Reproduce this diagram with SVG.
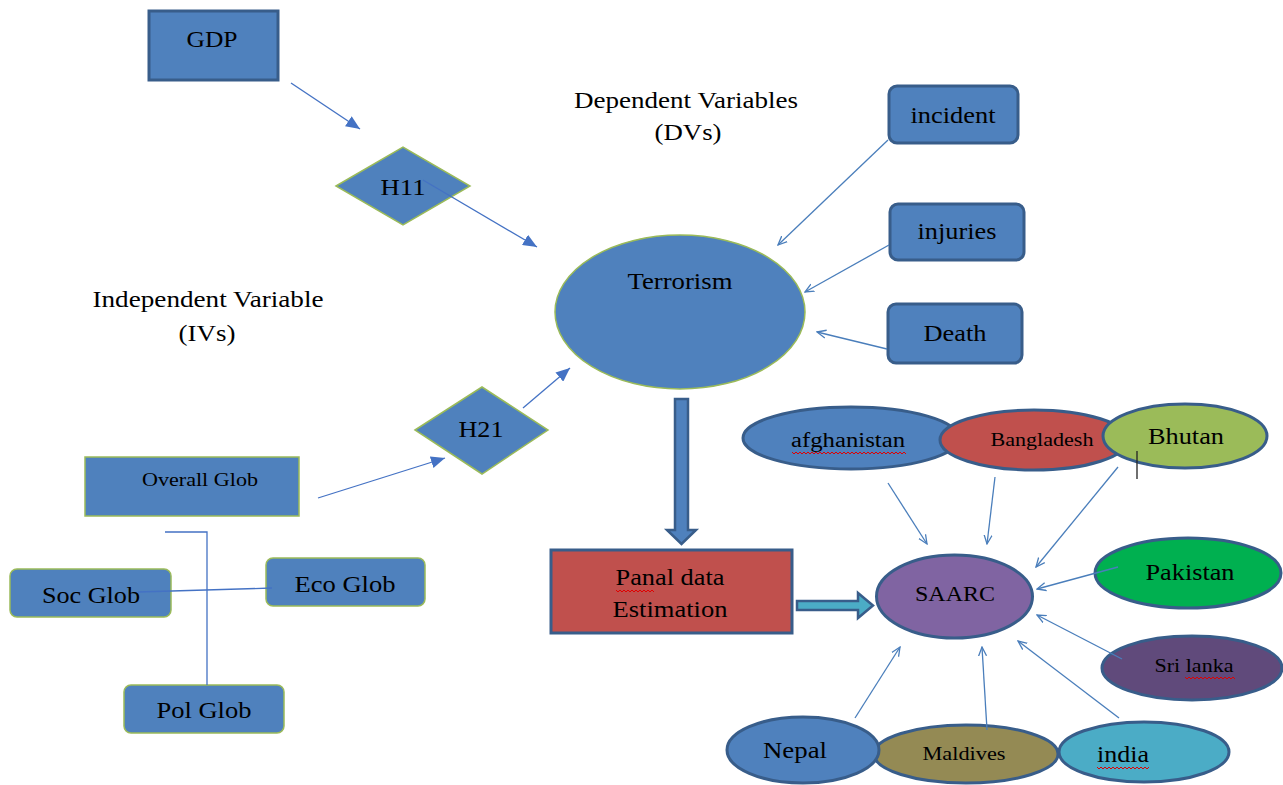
<svg xmlns="http://www.w3.org/2000/svg" width="1283" height="785" viewBox="0 0 1283 785">
<style>
text{font-family:"Liberation Serif","Times New Roman",serif;fill:#000;text-anchor:middle}
.b{fill:#4f81bd;stroke:#385d8a;stroke-width:3}
.g{fill:#4f81bd;stroke:#9bbb59;stroke-width:1.5}
.e{stroke:#385d8a;stroke-width:3}
.c{fill:none;stroke:#4a7ebb;stroke-width:1.3}
.cf{fill:none;stroke:#4472c4;stroke-width:1.3}
.sq{fill:none;stroke:#e00000;stroke-width:1}
</style>
<defs>
<marker id="fa" viewBox="0 0 14 12" refX="14" refY="6" markerWidth="14" markerHeight="12" markerUnits="userSpaceOnUse" orient="auto"><path d="M0,0 L14,6 L0,12 z" fill="#4472c4"/></marker>
<marker id="oa" viewBox="0 0 10 10" refX="9" refY="5" markerWidth="10" markerHeight="10" markerUnits="userSpaceOnUse" orient="auto"><path d="M0,1 L9,5 L0,9" fill="none" stroke="#4a7ebb" stroke-width="1.3"/></marker>
</defs>
<rect width="1283" height="785" fill="#fff"/>
<g id="label-dv"><text x="686" y="108" font-size="24" textLength="224" lengthAdjust="spacingAndGlyphs">Dependent Variables</text><text x="688" y="140" font-size="24" textLength="67" lengthAdjust="spacingAndGlyphs">(DVs)</text></g>
<g id="label-iv"><text x="208" y="307" font-size="24" textLength="231" lengthAdjust="spacingAndGlyphs">Independent Variable</text><text x="207" y="341" font-size="24" textLength="57" lengthAdjust="spacingAndGlyphs">(IVs)</text></g>
<g id="gdp"><rect class="b" x="149" y="11" width="129" height="69"/><text x="212" y="47" font-size="23" textLength="51" lengthAdjust="spacingAndGlyphs">GDP</text></g>
<g id="h11"><polygon class="g" points="336,186 403,147 470,186 403,225"/><text x="403" y="195" font-size="23" textLength="45" lengthAdjust="spacingAndGlyphs">H11</text></g>
<g id="terrorism"><ellipse class="g" cx="680" cy="312" rx="125" ry="77"/><text x="680" y="289" font-size="23" textLength="105" lengthAdjust="spacingAndGlyphs">Terrorism</text></g>
<g id="incident"><rect class="b" x="889" y="86" width="129" height="57" rx="8"/><text x="953" y="123" font-size="23" textLength="85" lengthAdjust="spacingAndGlyphs">incident</text></g>
<g id="injuries"><rect class="b" x="890" y="204" width="134" height="56" rx="8"/><text x="957" y="239" font-size="23" textLength="79" lengthAdjust="spacingAndGlyphs">injuries</text></g>
<g id="death"><rect class="b" x="888" y="304" width="134" height="59" rx="8"/><text x="955" y="341" font-size="23" textLength="63" lengthAdjust="spacingAndGlyphs">Death</text></g>
<g id="h21"><polygon class="g" points="415,430 482,387 548,430 482,474"/><text x="481" y="437" font-size="23" textLength="45" lengthAdjust="spacingAndGlyphs">H21</text></g>
<g id="overall-glob"><rect class="g" x="85" y="457" width="214" height="59"/><text x="200" y="486" font-size="18" textLength="116" lengthAdjust="spacingAndGlyphs">Overall Glob</text></g>
<g id="soc-glob"><rect class="g" x="10" y="569" width="161" height="48" rx="7"/><text x="91" y="603" font-size="23" textLength="98" lengthAdjust="spacingAndGlyphs">Soc Glob</text></g>
<g id="eco-glob"><rect class="g" x="266" y="558" width="159" height="48" rx="7"/><text x="345" y="592" font-size="23" textLength="101" lengthAdjust="spacingAndGlyphs">Eco Glob</text></g>
<g id="pol-glob"><rect class="g" x="124" y="685" width="160" height="48" rx="7"/><text x="204" y="718" font-size="23" textLength="95" lengthAdjust="spacingAndGlyphs">Pol Glob</text></g>
<g id="down-arrow"><polygon points="675,399 688,399 688,530 696,530 681.5,544 667,530 675,530" fill="#4f81bd" stroke="#385d8a" stroke-width="2.5"/></g>
<g id="panal"><rect x="551" y="550" width="241" height="83" fill="#c0504d" stroke="#385d8a" stroke-width="3"/><text x="670" y="585" font-size="23" textLength="109" lengthAdjust="spacingAndGlyphs">Panal data</text><text x="670" y="617" font-size="23" textLength="115" lengthAdjust="spacingAndGlyphs">Estimation</text><path class="sq" d="M616,590 l2,2 l2,-2 l2,2 l2,-2 l2,2 l2,-2 l2,2 l2,-2 l2,2 l2,-2 l2,2 l2,-2 l2,2 l2,-2 l2,2 l2,-2 l2,2 l2,-2 l2,2"/></g>
<g id="right-arrow"><polygon points="797,601 858,601 858,593 873,605.5 858,618 858,610 797,610" fill="#4bacc6" stroke="#385d8a" stroke-width="2.5"/></g>
<g id="saarc"><ellipse class="e" cx="954.5" cy="596.5" rx="78" ry="41.5" fill="#8064a2"/><text x="955" y="601" font-size="21" textLength="80" lengthAdjust="spacingAndGlyphs">SAARC</text></g>
<g id="afghanistan"><ellipse class="e" cx="851" cy="438" rx="108" ry="31" fill="#4f81bd"/><text x="848" y="447" font-size="20" textLength="114" lengthAdjust="spacingAndGlyphs">afghanistan</text><path class="sq" d="M792,452 l2,2 l2,-2 l2,2 l2,-2 l2,2 l2,-2 l2,2 l2,-2 l2,2 l2,-2 l2,2 l2,-2 l2,2 l2,-2 l2,2 l2,-2 l2,2 l2,-2 l2,2 l2,-2 l2,2 l2,-2 l2,2 l2,-2 l2,2 l2,-2 l2,2 l2,-2 l2,2 l2,-2 l2,2 l2,-2 l2,2 l2,-2 l2,2 l2,-2 l2,2 l2,-2 l2,2 l2,-2 l2,2 l2,-2 l2,2 l2,-2 l2,2 l2,-2 l2,2 l2,-2 l2,2 l2,-2 l2,2 l2,-2 l2,2 l2,-2 l2,2 l2,-2 l2,2"/></g>
<g id="bangladesh"><ellipse class="e" cx="1034" cy="440" rx="94" ry="30" fill="#c0504d"/><text x="1042" y="446" font-size="18" textLength="103" lengthAdjust="spacingAndGlyphs">Bangladesh</text></g>
<g id="bhutan"><ellipse class="e" cx="1185" cy="436" rx="82" ry="32" fill="#9bbb59"/><text x="1186" y="444" font-size="23" textLength="76" lengthAdjust="spacingAndGlyphs">Bhutan</text><line x1="1137" y1="451" x2="1137" y2="479" stroke="#222" stroke-width="1.3"/></g>
<g id="pakistan"><ellipse class="e" cx="1188" cy="573" rx="93" ry="35" fill="#00b050"/><text x="1190" y="580" font-size="23" textLength="89" lengthAdjust="spacingAndGlyphs">Pakistan</text></g>
<g id="sri-lanka"><ellipse class="e" cx="1192" cy="668" rx="90" ry="32" fill="#604a7b"/><text x="1194" y="672" font-size="19" textLength="79" lengthAdjust="spacingAndGlyphs">Sri lanka</text><path class="sq" d="M1185,677 l2,2 l2,-2 l2,2 l2,-2 l2,2 l2,-2 l2,2 l2,-2 l2,2 l2,-2 l2,2 l2,-2 l2,2 l2,-2 l2,2 l2,-2 l2,2 l2,-2 l2,2 l2,-2 l2,2 l2,-2 l2,2 l2,-2 l2,2"/></g>
<g id="maldives"><ellipse class="e" cx="966" cy="754" rx="92" ry="29" fill="#948a54"/><text x="964" y="760" font-size="18" textLength="83" lengthAdjust="spacingAndGlyphs">Maldives</text></g>
<g id="nepal"><ellipse class="e" cx="803" cy="750" rx="76" ry="33" fill="#4f81bd"/><text x="795" y="758" font-size="23" textLength="64" lengthAdjust="spacingAndGlyphs">Nepal</text></g>
<g id="india"><ellipse class="e" cx="1144" cy="752" rx="85" ry="30" fill="#4bacc6"/><text x="1123" y="762" font-size="23" textLength="52" lengthAdjust="spacingAndGlyphs">india</text><path class="sq" d="M1097,767 l2,2 l2,-2 l2,2 l2,-2 l2,2 l2,-2 l2,2 l2,-2 l2,2 l2,-2 l2,2 l2,-2 l2,2 l2,-2 l2,2 l2,-2 l2,2 l2,-2 l2,2 l2,-2 l2,2 l2,-2 l2,2 l2,-2 l2,2 l2,-2"/></g>
<g id="connectors">
<path class="cf" d="M291,83 L360,129" marker-end="url(#fa)"/>
<path class="cf" d="M423,180 L537,247" marker-end="url(#fa)"/>
<path class="cf" d="M318,498 L445,458" marker-end="url(#fa)"/>
<path class="cf" d="M523,408 L570,368" marker-end="url(#fa)"/>
<path class="c" d="M888,140 L778,245" marker-end="url(#oa)"/>
<path class="c" d="M889,245 L805,292" marker-end="url(#oa)"/>
<path class="c" d="M887,349 L817,332" marker-end="url(#oa)"/>
<polyline class="cf" points="165,532 207,532 207,685"/>
<path class="cf" d="M138,592 L272,588"/>
<path class="c" d="M888,483 L927,544" marker-end="url(#oa)"/>
<path class="c" d="M995,477 L987,544" marker-end="url(#oa)"/>
<path class="c" d="M1118,467 L1036,567" marker-end="url(#oa)"/>
<path class="c" d="M1118,567 L1037,589" marker-end="url(#oa)"/>
<path class="c" d="M1122,659 L1037,615" marker-end="url(#oa)"/>
<path class="c" d="M1119,718 L1018,641" marker-end="url(#oa)"/>
<path class="c" d="M987,730 L982,647" marker-end="url(#oa)"/>
<path class="c" d="M855,718 L900,647" marker-end="url(#oa)"/>
</g>
</svg>
